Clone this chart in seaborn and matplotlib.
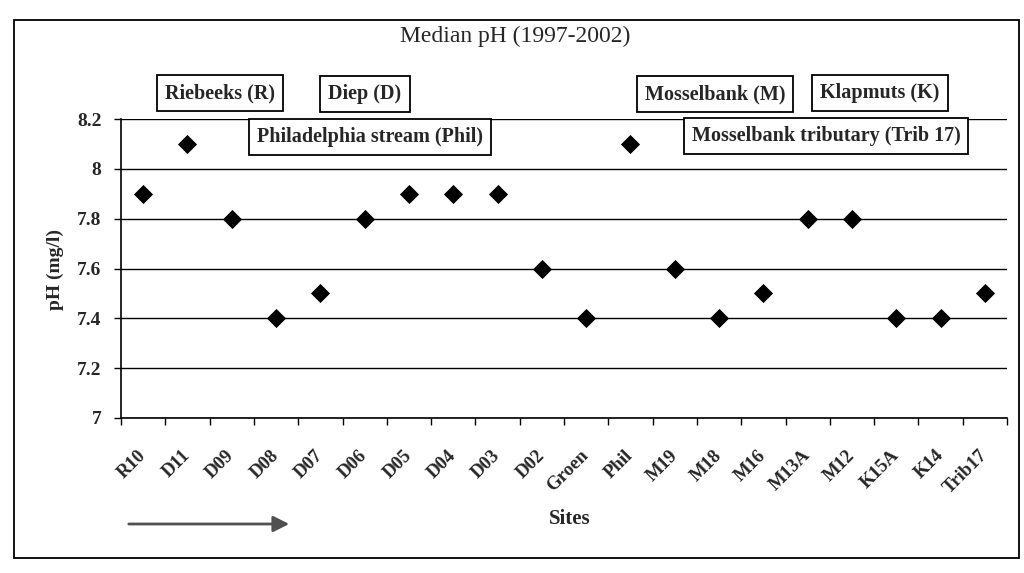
import matplotlib
matplotlib.use("Agg")
import matplotlib.pyplot as plt
from matplotlib.patches import Rectangle, FancyArrowPatch
from matplotlib.ticker import FixedLocator, NullFormatter
import seaborn as sns
import pandas as pd
import numpy as np

sites = ["R10", "D11", "D09", "D08", "D07", "D06", "D05", "D04", "D03", "D02",
         "Groen", "Phil", "M19", "M18", "M16", "M13A", "M12", "K15A", "K14", "Trib17"]
ph_median = [7.9, 8.1, 7.8, 7.4, 7.5, 7.8, 7.9, 7.9, 7.9, 7.6,
             7.4, 8.1, 7.6, 7.4, 7.5, 7.8, 7.8, 7.4, 7.4, 7.5]
y_ticks = [7.0, 7.2, 7.4, 7.6, 7.8, 8.0, 8.2]
y_tick_labels = ["7", "7.2", "7.4", "7.6", "7.8", "8", "8.2"]
title = "Median pH (1997-2002)"
river_labels = ["Riebeeks (R)", "Diep (D)", "Philadelphia stream (Phil)",
                "Mosselbank (M)", "Klapmuts (K)", "Mosselbank tributary (Trib 17)"]

sns.set_theme(style="white")
plt.rcParams["font.family"] = ["Liberation Serif", "DejaVu Serif"]

W, H = 1024, 573
fig = plt.figure(figsize=(W / 100, H / 100), dpi=100)

def fx(x):
    return x / W

def fy(y):
    return 1 - y / H

# outer chart frame
fig.add_artist(Rectangle((fx(14), fy(558)), fx(1019) - fx(14), fy(20) - fy(558),
                         transform=fig.transFigure, fill=False, edgecolor="black",
                         linewidth=1.3))

ax = fig.add_axes([fx(121), fy(418), fx(1007) - fx(121), fy(119) - fy(418)])

df = pd.DataFrame({"site": sites, "ph": ph_median})
df["pos"] = np.arange(len(sites))
sns.scatterplot(data=df, x="pos", y="ph", marker="D", color="black", s=95,
                edgecolor="black", linewidth=0, ax=ax, zorder=3, clip_on=False)

ax.set_xlim(-0.5, len(sites) - 0.5)
ax.set_ylim(7.0, 8.2)
ax.set_yticks(y_ticks)
ax.set_yticklabels(y_tick_labels, fontweight="bold", fontsize=14)
ax.set_xticks(df["pos"])
ax.set_xticklabels(sites, rotation=45, ha="right", va="center",
                   rotation_mode="anchor", fontweight="bold", fontsize=13.5)
ax.xaxis.set_minor_locator(FixedLocator(np.arange(-0.5, len(sites), 1.0)))
ax.xaxis.set_minor_formatter(NullFormatter())
ax.tick_params(axis="x", which="major", length=0, pad=25)
ax.tick_params(axis="x", which="minor", length=5, width=1, color="black",
               direction="out", bottom=True)
ax.tick_params(axis="y", which="major", length=5, width=1, color="black",
               direction="out", left=True, pad=9)

ax.grid(axis="y", color="black", linewidth=1.0)
ax.grid(axis="x", visible=False)
for side in ["top", "right"]:
    ax.spines[side].set_visible(False)
for side in ["left", "bottom"]:
    ax.spines[side].set_color("black")
    ax.spines[side].set_linewidth(1.2)

ax.set_xlabel("")
ax.set_ylabel("")
fig.text(fx(55), fy(270), "pH (mg/l)", rotation=90, ha="center", va="center",
         fontsize=14, fontweight="bold")
fig.text(fx(570), fy(519), "Sites", ha="center", va="center",
         fontsize=15, fontweight="bold")
fig.text(fx(515), fy(36), title, ha="center", va="center", fontsize=17)

box_pos = [(220, 93), (365, 94), (370, 137), (715, 94), (880, 93), (826, 136)]
for lab, (bx, by) in zip(river_labels, box_pos):
    fig.text(fx(bx), fy(by), lab, ha="center", va="center", fontsize=14.5,
             fontweight="bold",
             bbox=dict(boxstyle="square,pad=0.4", facecolor="white",
                       edgecolor="black", linewidth=1.3))

fig.add_artist(FancyArrowPatch((fx(126), fy(524)), (fx(292), fy(524)),
                               transform=fig.transFigure, arrowstyle="-|>",
                               mutation_scale=24, color="#505050", linewidth=2.0))

fig.savefig("out.png", dpi=100)
